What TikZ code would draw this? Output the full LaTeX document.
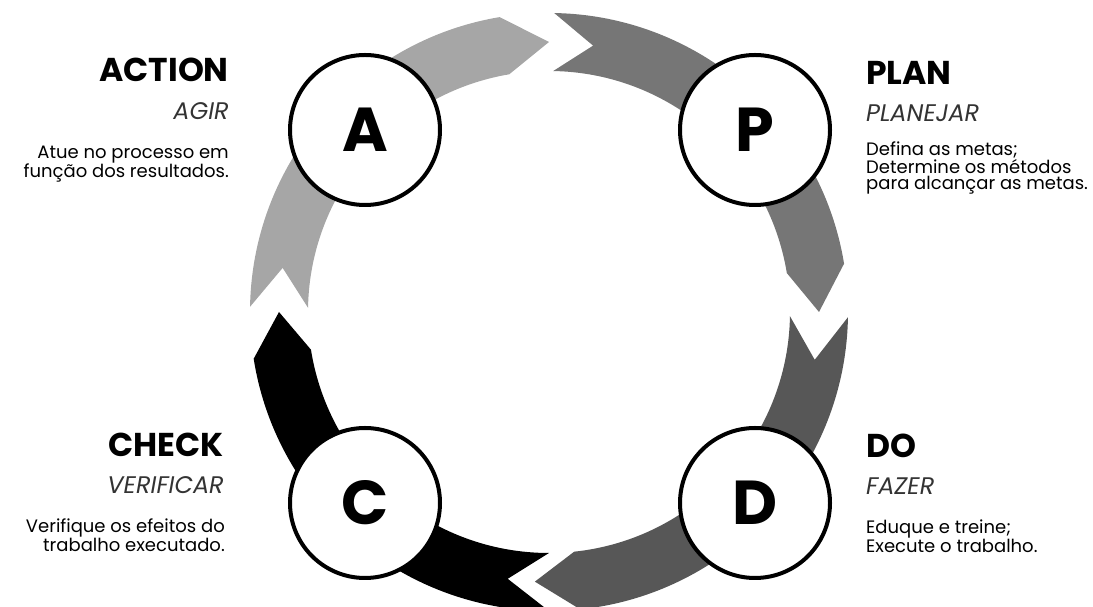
\documentclass[tikz,border=0pt]{standalone}
\usepackage{fontspec}
\setmainfont{Poppins}
\usetikzlibrary{positioning}

\definecolor{agirgray}{HTML}{A6A6A6}
\definecolor{plangray}{HTML}{767676}
\definecolor{fazergray}{HTML}{575757}
\definecolor{subgray}{HTML}{333333}

\tikzset{
  stage/.style={circle, draw=black, line width=4pt, fill=white, minimum size=150pt,
    inner sep=0pt, font=\fontsize{62}{62}\selectfont\bfseries},
  headline/.style={inner sep=0pt, font=\fontsize{33}{33}\selectfont\bfseries},
  subline/.style={inner sep=0pt, text=subgray, font=\fontsize{24}{24}\selectfont\itshape},
  bodytext/.style={inner sep=0pt, font=\fontsize{18}{16.5}\selectfont},
}

\begin{document}
\begin{tikzpicture}[x=1pt,y=1pt]
  \useasboundingbox (0,0) rectangle (1093,607);
  \clip (0,0) rectangle (1093,607);
  % Centre of the cycle
  \coordinate (ring) at (549,295);
  \begin{scope}[shift={(ring)}]
    % Act: left -> top
    \fill[agirgray] (179:299) arc[start angle=179, end angle=99.5, radius=299]
      -- (90:270) -- (99.5:241) arc[start angle=99.5, end angle=179, radius=241]
      -- (170.6:270) -- cycle;
    % Plan: top -> right
    \fill[plangray] (89:299) arc[start angle=89, end angle=9.3, radius=299]
      -- (0:270) -- (9.3:241) arc[start angle=9.3, end angle=89, radius=241]
      -- (80.6:270) -- cycle;
    % Do: right -> bottom
    \fill[fazergray] (-1:299) arc[start angle=-1, end angle=-84, radius=299]
      -- (-93:270) -- (-84:241) arc[start angle=-84, end angle=-1, radius=241]
      -- (-10.2:270) -- cycle;
    % Check: bottom -> left
    \fill[black] (-90:299) arc[start angle=-90, end angle=-171, radius=299]
      -- (-180:270) -- (-171:241) arc[start angle=-171, end angle=-90, radius=241]
      -- (-98.8:270) -- cycle;
  \end{scope}

  % Stage circles
  \node[stage] (act) at (365,477) {A};
  \node[stage] (plan) at (755,477) {P};
  \node[stage] (check) at (365,104) {C};
  \node[stage] (do) at (755,104) {D};

  % Labels, left column (base = last line)
  \node[headline, anchor=base east] (actname) at (229,525) {ACTION};
  \node[subline, anchor=base east] (actsub) at (229,487) {AGIR};
  \node[bodytext, anchor=base east, align=right] (acttext) at (229,429)
    {Atue no processo em\\função dos resultados.};
  \node[headline, anchor=base east] (checkname) at (224,150) {CHECK};
  \node[subline, anchor=base east] (checksub) at (224,113) {VERIFICAR};
  \node[bodytext, anchor=base east, align=right] (checktext) at (225,55)
    {Verifique os efeitos do\\trabalho executado.};

  % Labels, right column
  \node[headline, anchor=base west] (planname) at (866,522) {PLAN};
  \node[subline, anchor=base west] (plansub) at (866,485) {PLANEJAR};
  \node[bodytext, anchor=base west, align=left] (plantext) at (866,417)
    {Defina as metas;\\Determine os métodos\\para alcançar as metas.};
  \node[headline, anchor=base west] (doname) at (866,149) {DO};
  \node[subline, anchor=base west] (dosub) at (866,112) {FAZER};
  \node[bodytext, anchor=base west, align=left] (dotext) at (866,54)
    {Eduque e treine;\\Execute o trabalho.};
\end{tikzpicture}
\end{document}
